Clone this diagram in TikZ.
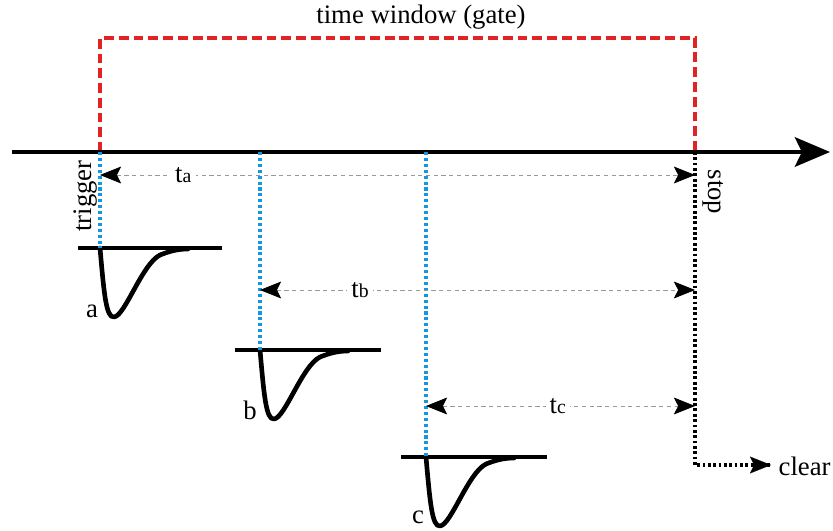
\documentclass[tikz,border=0pt]{standalone}
\usepackage{fontspec}
\setmainfont{Liberation Serif}
\usetikzlibrary{arrows.meta}
\definecolor{dotblue}{RGB}{20,150,225}
\definecolor{gatered}{RGB}{225,35,35}

\begin{document}
\begin{tikzpicture}[
  x=0.025cm,y=-0.025cm,
  lbl/.style={font=\fontsize{19}{22}\selectfont,inner sep=1pt},
  axis/.style={line width=2.8pt,-{Stealth[length=25pt,width=21pt,inset=5pt]}},
  gate/.style={line width=2.2pt,gatered,dash pattern=on 7pt off 3.5pt},
  bluedot/.style={line width=2.3pt,dotblue,dash pattern=on 2.2pt off 2pt},
  blackdot/.style={line width=2.2pt,black,dash pattern=on 2pt off 1.8pt},
  mtip/.tip={Stealth[length=15pt,width=12pt,inset=3pt,black]},
  meas/.style={gray!80,line width=0.6pt,dash pattern=on 3pt off 2.5pt,{mtip}-{mtip}},
  tlbl/.style={lbl,fill=white,text=black,inner sep=3pt},
  base/.style={line width=2.8pt},
  pulse/.style={line width=3.3pt,line join=round,line cap=round},
]
\useasboundingbox (0,0) rectangle (833,531);

% === time axis and gate ===
\coordinate (ax0) at (12,152);
\coordinate (ax1) at (830,152);
\coordinate (trig) at (100,152);
\coordinate (stop) at (695,152);
\coordinate (gtop) at (421,38);
\node[lbl] (title) at (421,17) {time window (gate)};

\draw[gate] (trig) |- (gtop) -| (stop);
\draw[axis] (ax0) -- (ax1);

\node[lbl,rotate=90] (trigger) at (86,196) {trigger};
\node[lbl,rotate=-90] (stoplbl) at (713,192) {stop};

% === pulses ===
\coordinate (pa) at (100,248);
\coordinate (pb) at (260,350);
\coordinate (pc) at (426,457);

\draw[base] (78,248) -- (222,248);
\draw[base] (235,350) -- (381,350);
\draw[base] (401,457) -- (547,457);

\foreach \p in {pa,pb,pc}
  \draw[pulse,shift={(\p)}] (0,0) .. controls (4,45) and (6,70) .. (14,69)
    .. controls (25,68) and (42,16) .. (60,7) .. controls (70,3) and (78,1) .. (88,1);

\node[lbl] (la) at (92,311) {a};
\node[lbl] (lb) at (250,410) {b};
\node[lbl] (lc) at (418,517) {c};

% dotted markers
\draw[bluedot] (trig) -- (pa);
\draw[bluedot] (260,152) -- (pb);
\draw[bluedot] (426,152) -- (pc);

\coordinate (clr) at (771,465);
\draw[blackdot] (stop) |- (clr);
\draw[-{mtip},line width=0.1pt] (760,465) -- (clr);
\node[lbl,anchor=west] (clear) at (777,466) {clear};

% === intervals ===
\coordinate (ta0) at (100,175);
\coordinate (ta1) at (695,175);
\coordinate (tb0) at (260,290);
\coordinate (tb1) at (695,290);
\coordinate (tc0) at (426,406);
\coordinate (tc1) at (695,406);

\draw[meas] (ta0) -- node[tlbl,pos=0.14] {t{\fontsize{14}{14}\selectfont a}} (ta1);
\draw[meas] (tb0) -- node[tlbl,pos=0.23] {t{\fontsize{14}{14}\selectfont b}} (tb1);
\draw[meas] (tc0) -- node[tlbl,pos=0.49] {t{\fontsize{14}{14}\selectfont c}} (tc1);

\end{tikzpicture}
\end{document}
